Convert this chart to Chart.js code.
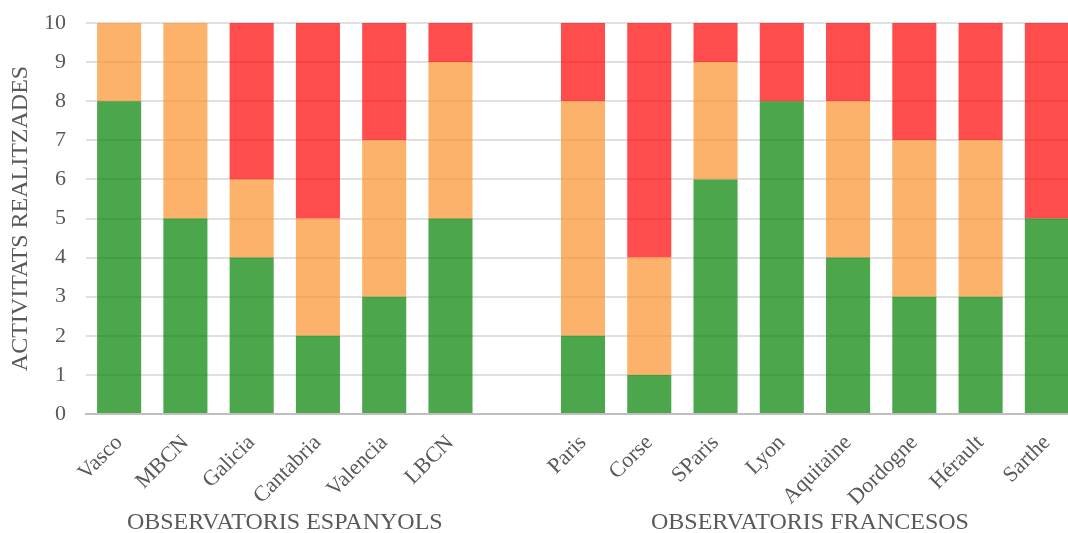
<!DOCTYPE html>
<html>
<head>
<meta charset="utf-8">
<script src="https://cdn.jsdelivr.net/npm/chart.js@4/dist/chart.umd.min.js"></script>
<style>
    html, body { margin: 0; padding: 0; background: #fff; overflow: hidden; }
    #wrap { position: relative; width: 1080px; height: 533px; }
</style>
</head>
<body>
<div id="wrap"><canvas id="chart"></canvas></div>
<script>
// Categories (empty slot separates the two groups)
const categories = ['Vasco', 'MBCN', 'Galicia', 'Cantabria', 'Valencia', 'LBCN', '',
    'Paris', 'Corse', 'SParis', 'Lyon', 'Aquitaine', 'Dordogne', 'Hérault', 'Sarthe'];

// Stacked values per observatory
const greenValues  = [8, 5, 4, 2, 3, 5, null, 2, 1, 6, 8, 4, 3, 3, 5];
const orangeValues = [2, 5, 2, 3, 4, 4, null, 6, 3, 3, 0, 4, 4, 4, 0];
const redValues    = [0, 0, 4, 5, 3, 1, null, 2, 6, 1, 2, 2, 3, 3, 5];

// Group labels under the axis
const groups = [
    { label: 'OBSERVATORIS ESPANYOLS', from: 0, to: 5 },
    { label: 'OBSERVATORIS FRANCESOS', from: 7, to: 14 }
];

const yTicks = [0, 10];
const yTitle = 'ACTIVITATS REALITZADES';

const FONT = '"Liberation Serif", "Times New Roman", serif';
const TEXT = '#595959';

// Draws the group names centred under their bars
const groupLabels = {
    id: 'groupLabels',
    afterDraw(chart) {
        const ctx = chart.ctx;
        const x = chart.scales.x;
        ctx.save();
        ctx.font = '24px ' + FONT;
        ctx.fillStyle = TEXT;
        ctx.textAlign = 'center';
        ctx.textBaseline = 'alphabetic';
        groups.forEach(g => {
            const cx = (x.getPixelForValue(g.from) + x.getPixelForValue(g.to)) / 2;
            ctx.fillText(g.label, cx - (g.from ? 5 : 0), 529);
        });
        ctx.restore();
    }
};

new Chart(document.getElementById('chart').getContext('2d'), {
    type: 'bar',
    data: {
        labels: categories,
        datasets: [
            { data: greenValues,  backgroundColor: 'rgba(0, 128, 0, 0.7)' },
            { data: orangeValues, backgroundColor: 'rgba(252, 146, 44, 0.7)' },
            { data: redValues,    backgroundColor: 'rgba(255, 0, 0, 0.7)' }
        ]
    },
    options: {
        responsive: true,
        maintainAspectRatio: false,
        animation: false,
        categoryPercentage: 1,
        barPercentage: 0.665,
        layout: { padding: { top: 23, bottom: 0, left: 0, right: 0 } },
        plugins: {
            legend: { display: false },
            tooltip: { enabled: false }
        },
        scales: {
            x: {
                stacked: true,
                grid: { display: false },
                border: { display: true, color: '#bfbfbf', width: 2 },
                ticks: {
                    color: TEXT,
                    font: { family: FONT, size: 22 },
                    maxRotation: 45,
                    minRotation: 45,
                    autoSkip: false,
                    padding: 8
                },
                afterFit(scale) { scale.height = 119; }
            },
            y: {
                stacked: true,
                min: yTicks[0],
                max: yTicks[1],
                grid: { color: '#e0e0e0', lineWidth: 2, drawTicks: false },
                border: { display: false },
                ticks: {
                    stepSize: 1,
                    color: TEXT,
                    font: { family: FONT, size: 22 },
                    padding: 20
                },
                title: {
                    display: true,
                    text: yTitle,
                    color: TEXT,
                    font: { family: FONT, size: 24 },
                    padding: { top: 6, bottom: 4 }
                },
                afterFit(scale) {
                    scale.width = 86;
                    scale.paddingTop = 0;
                    scale.paddingBottom = 0;
                }
            }
        }
    },
    plugins: [groupLabels]
});
</script>
</body>
</html>
